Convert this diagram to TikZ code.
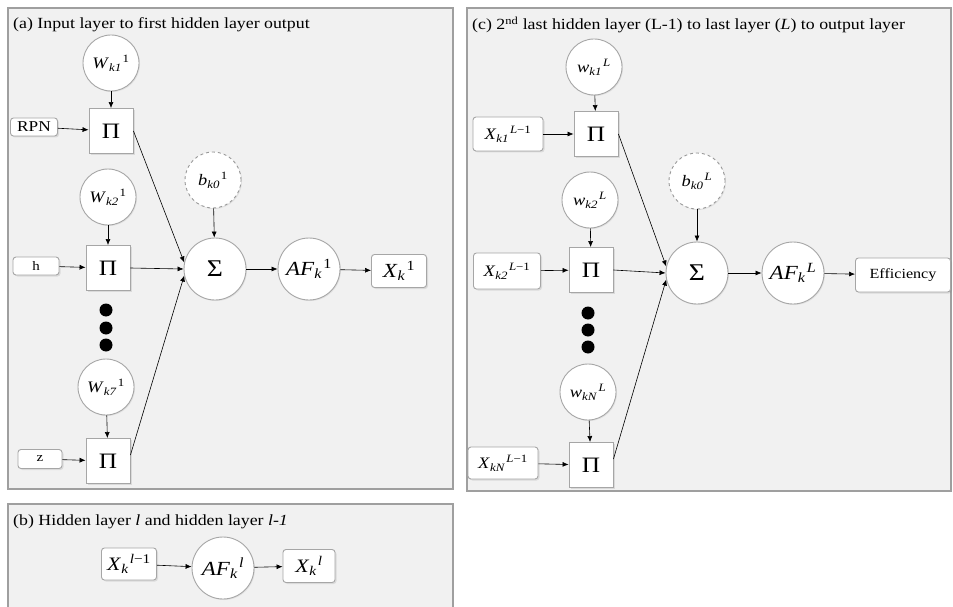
\documentclass[tikz,border=0pt]{standalone}
\usepackage{fontspec}
\setmainfont{Liberation Serif}[FakeStretch=1.15]
\usetikzlibrary{arrows.meta,shadows}
\newcommand\lab[3]{\textit{#1}\textsubscript{\textit{#2}}\kern1pt\textsuperscript{#3}}
\begin{document}
\begin{tikzpicture}[x=1pt,y=-1pt,
  panel/.style={draw=gray!75,line width=1.3pt,fill=gray!11},
  ttl/.style={anchor=west,inner sep=0pt,font=\fontsize{15.5}{17}\selectfont},
  wc/.style={circle,draw=gray!70,line width=0.9pt,fill=white,minimum size=56pt,inner sep=0pt,font=\fontsize{16}{18}\selectfont,drop shadow={opacity=0.15,shadow xshift=1pt,shadow yshift=-1pt}},
  bc/.style={wc,dashed,draw=gray!80},
  bigc/.style={wc,minimum size=62pt,font=\fontsize{20}{22}\selectfont},
  pibox/.style={rectangle,draw=gray!70,line width=0.9pt,fill=white,minimum width=44pt,minimum height=45pt,inner sep=0pt,font=\fontsize{22}{24}\selectfont,drop shadow={opacity=0.2,shadow xshift=1.5pt,shadow yshift=-1.5pt}},
  inbox/.style={rectangle,rounded corners=3pt,draw=gray!70,line width=0.9pt,fill=white,inner sep=0pt,font=\fontsize{16}{18}\selectfont,drop shadow={opacity=0.2,shadow xshift=1.5pt,shadow yshift=-1.5pt}},
  dotc/.style={circle,fill=black,inner sep=0pt,minimum size=13pt},
  arr/.style={-{Latex[length=6pt,width=5pt]},line width=0.6pt,black}]
\useasboundingbox (0,0) rectangle (953,607);
\fill[white] (0,0) rectangle (953,607);
% panels
\draw[panel] (8,8) rectangle (453,489);
\draw[panel] (467,8) rectangle (951,491);
\draw[panel] (8,504) rectangle (453,612);
% titles
\node[ttl] (ta) at (13,25) {(a) Input layer to first hidden layer output};
\node[ttl] (tc) at (472,25) {(c) 2\textsuperscript{nd} last hidden layer (L-1) to last layer (\textit{L}) to output layer};
\node[ttl] (tb) at (13,522) {(b) Hidden layer \textit{l} and hidden layer \textit{l-1}};

% ---------- panel (a)
\node[wc] (wa1) at (111,63) {\lab{W}{k1}{1}};
\node[pibox] (pa1) at (111,131) {Π};
\node[inbox,minimum width=47pt,minimum height=18pt,font=\fontsize{15}{17}\selectfont] (rpn) at (34,127) {RPN};
\node[wc] (wa2) at (108,197) {\lab{W}{k2}{1}};
\node[pibox] (pa2) at (108,268) {Π};
\node[inbox,minimum width=46pt,minimum height=18pt,font=\fontsize{13}{15}\selectfont] (h) at (36,266) {h};
\node[dotc] (da1) at (106,310) {};
\node[dotc] (da2) at (106,328) {};
\node[dotc] (da3) at (106,345) {};
\node[wc] (wa7) at (106,387) {\lab{W}{k7}{1}};
\node[pibox] (pa3) at (108,461) {Π};
\node[inbox,minimum width=44pt,minimum height=19pt,font=\fontsize{13}{15}\selectfont] (z) at (40,459) {z};
\node[bc] (ba) at (213,180) {\lab{b}{k0}{1}};
\node[bigc,font=\fontsize{24}{26}\selectfont] (sa) at (215,269) {Σ};
\node[bigc] (afa) at (309,269) {\lab{AF}{k}{1}};
\node[inbox,minimum width=55pt,minimum height=33pt,font=\fontsize{20}{22}\selectfont] (xa) at (399,271) {\lab{X}{k}{1}};

\draw[arr] (wa1) -- (pa1);
\draw[arr] (wa2) -- (pa2);
\draw[arr] (wa7) -- (pa3);
\draw[arr] (rpn) -- (pa1);
\draw[arr] (h) -- (pa2);
\draw[arr] (z) -- (pa3);
\draw[arr] (ba) -- (sa);
\draw[arr] (pa1.east) -- (sa.168);
\draw[arr] (pa2.east) -- (sa.west);
\draw[arr] (pa3.15) -- (sa.192);
\draw[arr] (sa) -- (afa);
\draw[arr] (afa) -- (xa);

% ---------- panel (c)
\node[wc] (wc1) at (594,67) {\lab{w}{k1}{\textit{L}}};
\node[pibox] (pc1) at (596,134) {Π};
\node[inbox,minimum width=70pt,minimum height=34pt] (xc1) at (508,134) {\lab{X}{k1}{\textit{L}−1}};
\node[wc] (wc2) at (590,200) {\lab{w}{k2}{\textit{L}}};
\node[pibox] (pc2) at (591,270) {Π};
\node[inbox,minimum width=67pt,minimum height=36pt] (xc2) at (507,271) {\lab{X}{k2}{\textit{L}−1}};
\node[dotc] (dc1) at (588,313) {};
\node[dotc] (dc2) at (588,330) {};
\node[dotc] (dc3) at (588,347) {};
\node[wc] (wcn) at (588,392) {\lab{w}{kN}{\textit{L}}};
\node[pibox] (pc3) at (591,465) {Π};
\node[inbox,minimum width=70pt,minimum height=32pt] (xcn) at (503,463) {\lab{X}{kN}{\textit{L}−1}};
\node[bc] (bcc) at (697,181) {\lab{b}{k0}{\textit{L}}};
\node[bigc,font=\fontsize{24}{26}\selectfont] (sc) at (697,273) {Σ};
\node[bigc] (afc) at (793,273) {\lab{AF}{k}{\textit{L}}};
\node[inbox,minimum width=95pt,minimum height=34pt,font=\fontsize{14}{16}\selectfont] (eff) at (903,275) {Efficiency};

\draw[arr] (wc1) -- (pc1);
\draw[arr] (wc2) -- (pc2);
\draw[arr] (wcn) -- (pc3);
\draw[arr] (xc1) -- (pc1);
\draw[arr] (xc2) -- (pc2);
\draw[arr] (xcn) -- (pc3);
\draw[arr] (bcc) -- (sc);
\draw[arr] (pc1.east) -- (sc.168);
\draw[arr] (pc2.east) -- (sc.west);
\draw[arr] (pc3.15) -- (sc.192);
\draw[arr] (sc) -- (afc);
\draw[arr] (afc) -- (eff);

% ---------- panel (b)
\node[inbox,minimum width=55pt,minimum height=32pt,font=\fontsize{19}{21}\selectfont] (xb1) at (129,564) {\lab{X}{k}{\textit{l}−1}};
\node[bigc] (afb) at (223,568) {\lab{AF}{k}{\textit{l}}};
\node[inbox,minimum width=52pt,minimum height=33pt,font=\fontsize{19}{21}\selectfont] (xb2) at (309,566) {\lab{X}{k}{\textit{l}}};
\draw[arr] (xb1) -- (afb);
\draw[arr] (afb) -- (xb2);
\end{tikzpicture}
\end{document}
